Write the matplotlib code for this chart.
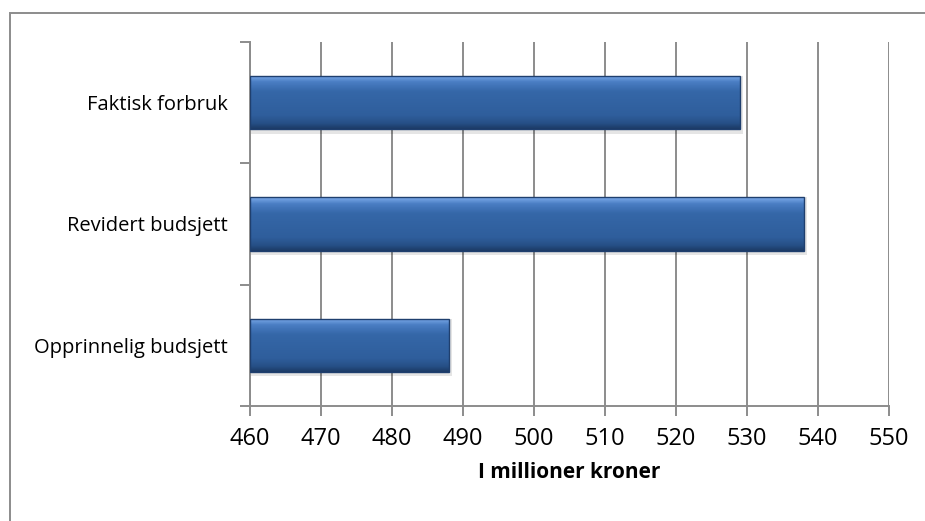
import matplotlib
matplotlib.use("Agg")
from matplotlib import pyplot as plt
from matplotlib.patches import Rectangle
from matplotlib.colors import LinearSegmentedColormap
import numpy as np

plt.rcParams['font.family'] = ['Open Sans', 'DejaVu Sans']

categories = ["Opprinnelig budsjett", "Revidert budsjett", "Faktisk forbruk"]
values = [488, 538, 529]
xticks = [460, 470, 480, 490, 500, 510, 520, 530, 540, 550]
xlabel = "I millioner kroner"

fig = plt.figure(figsize=(9.25, 5.21), dpi=100)
ax = fig.add_axes([250 / 925, 1 - 406 / 521, 639 / 925, 364 / 521])

# outer chart border (right and bottom edges fall outside the picture)
fig.patches.append(Rectangle((10 / 925, -20 / 521), 940 / 925, (508 + 20) / 521,
                             transform=fig.transFigure, fill=False,
                             edgecolor="#8c8c8c", linewidth=1.4))

ax.set_xlim(460, 550)
ax.set_ylim(-0.5, 2.5)

# vertical gridlines
for t in xticks:
    ax.axvline(t, color="#8c8c8c", linewidth=1.4, zorder=0)

bar_h = 0.44
grad = LinearSegmentedColormap.from_list(
    "bevel", [(0, "#7eaceb"), (0.12, "#4a7ec4"), (0.3, "#3567a8"),
              (0.75, "#2f5e9c"), (0.9, "#264f86"), (1, "#1c3b66")])
g = np.linspace(0, 1, 100).reshape(-1, 1)

for i, v in enumerate(values):
    # soft shadow
    ax.add_patch(Rectangle((460, i - bar_h / 2 - 0.035), v - 460 + 0.5, bar_h + 0.035,
                           facecolor="#000000", alpha=0.10, edgecolor="none", zorder=1))
    im = ax.imshow(g, cmap=grad, aspect="auto", extent=(460, v, i - bar_h / 2, i + bar_h / 2),
                   origin="upper", zorder=2)
    r = Rectangle((460, i - bar_h / 2), v - 460, bar_h, facecolor="none",
                  edgecolor="#1f3f6e", linewidth=1.0, zorder=3)
    ax.add_patch(r)
    im.set_clip_path(r)

ax.set_xticks(xticks)
ax.set_xticklabels([str(t) for t in xticks], fontsize=17)
ax.set_yticks([0, 1, 2])
ax.set_yticklabels(categories, fontsize=14.5)
ax.set_yticks([-0.5, 0.5, 1.5, 2.5], minor=True)
ax.tick_params(axis="y", which="major", length=0, pad=16)
ax.tick_params(axis="y", which="minor", length=7, color="#8c8c8c", width=1.4)
ax.tick_params(axis="x", length=7, color="#8c8c8c", width=1.4, pad=8)
ax.set_xlabel(xlabel, fontsize=15, fontweight="bold", labelpad=8)

for s in ["top", "right"]:
    ax.spines[s].set_visible(False)
for s in ["left", "bottom"]:
    ax.spines[s].set_color("#8c8c8c")
    ax.spines[s].set_linewidth(1.4)

fig.savefig("out.png", dpi=100)
